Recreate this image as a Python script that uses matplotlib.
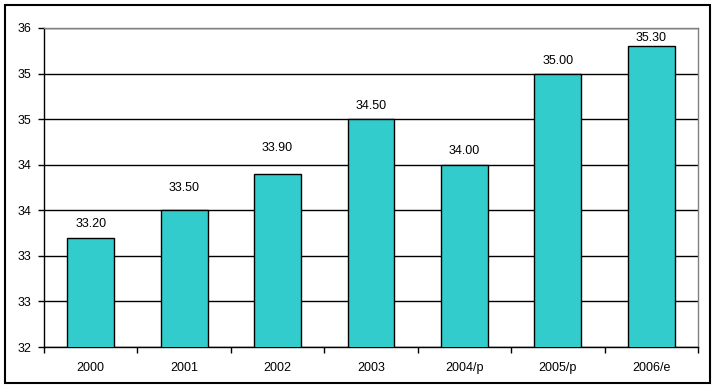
import matplotlib
matplotlib.use('Agg')
import matplotlib.pyplot as plt
from matplotlib.patches import Rectangle

# chart data
years = ['2000', '2001', '2002', '2003', '2004/p', '2005/p', '2006/e']
values = [33.20, 33.50, 33.90, 34.50, 34.00, 35.00, 35.30]
yticks = [32.0, 32.5, 33.0, 33.5, 34.0, 34.5, 35.0, 35.5]
ytick_labels = ['32', '33', '33', '34', '34', '35', '35', '36']
# pixel gap between bar top and label centre (labels were placed by hand)
label_gap = [14, 22.5, 26, 13, 14, 13, 8.5]

plt.rcParams['font.family'] = ['Liberation Sans', 'DejaVu Sans']
plt.rcParams['font.size'] = 9

W, H = 716, 388
fig = plt.figure(figsize=(W / 100, H / 100), dpi=100)
fig.patch.set_facecolor('white')

# outer chart-area border
fig.add_artist(Rectangle((5 / W, 1 - 383 / H), 705 / W, 378 / H,
                         transform=fig.transFigure, fill=False,
                         edgecolor='black', linewidth=1.5))

ax = fig.add_axes([44 / W, 1 - 347 / H, 654 / W, 319 / H])
x = list(range(len(years)))
ax.bar(x, values, width=0.5, color='#33CCCC', edgecolor='black',
       linewidth=1, zorder=3)
ax.set_xlim(-0.5, len(years) - 0.5)
ax.set_ylim(32, 35.5)

ax.set_yticks(yticks)
ax.set_yticklabels(ytick_labels)
ax.set_xticks(x)
ax.set_xticklabels(years)
ax.set_xticks([i - 0.5 for i in range(len(years) + 1)], minor=True)
ax.tick_params(axis='x', which='major', length=0, pad=11)
ax.tick_params(axis='x', which='minor', length=4, width=1, direction='out')
ax.tick_params(axis='y', length=4, width=1, direction='out', pad=5)

ax.yaxis.grid(True, color='black', linewidth=1, zorder=1)
ax.set_axisbelow(True)
for side in ['left', 'bottom']:
    ax.spines[side].set_color('black')
    ax.spines[side].set_linewidth(1)
for side in ['top', 'right']:
    ax.spines[side].set_color('#808080')
    ax.spines[side].set_linewidth(1)

# value labels above bars
fig.canvas.draw()
inv = ax.transData.inverted()
for xi, v, gap in zip(x, values, label_gap):
    px, py = ax.transData.transform((xi, v))
    _, yv = inv.transform((px, py + gap))
    ax.text(xi, yv, '%.2f' % v, ha='center', va='center', zorder=4)

fig.savefig('out.png', dpi=100)
